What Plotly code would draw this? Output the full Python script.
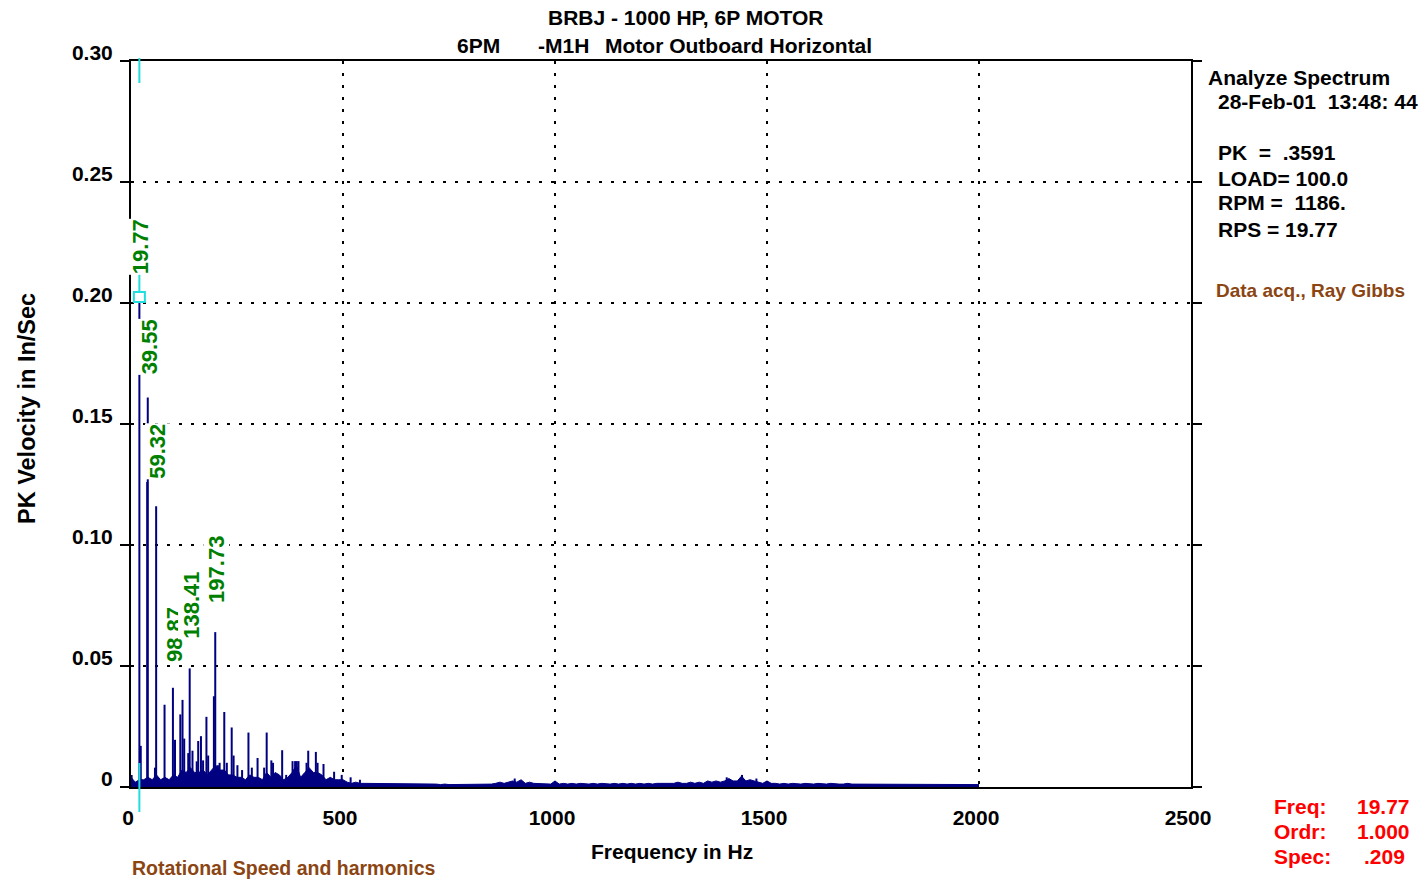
import plotly.graph_objects as go

W, H = 1422, 881
L, R, T, B = 131, 1191, 61, 787  # plot-area pixel bounds

FONT = "Liberation Sans, Arial, sans-serif"
NAVY = "#000080"
GREEN = "#008000"
BROWN = "#8B4513"
RED = "#FF0000"
CYAN = "#22DDDD"

# ---------------- data ----------------
FLOOR_STEP_HZ = 10
FLOOR_AMP = [
    0.004, 0.002, 0.003, 0.003, 0.004, 0.003, 0.005, 0.003, 0.004, 0.003, 0.005,
    0.004, 0.007, 0.006, 0.008, 0.006, 0.006, 0.007, 0.005, 0.007, 0.009,
    0.007, 0.007, 0.005, 0.005, 0.004, 0.004, 0.003, 0.005, 0.004, 0.004,
    0.003, 0.006, 0.004, 0.006, 0.005, 0.003, 0.004, 0.006, 0.009, 0.004,
    0.006, 0.008, 0.006, 0.006, 0.005, 0.003, 0.004, 0.003, 0.003, 0.003,
    0.002, 0.0015, 0.002, 0.0015, 0.0015, 0.0015, 0.0012, 0.0015, 0.0012, 0.0015,
    0.0012, 0.0015, 0.0012, 0.0012, 0.0015, 0.0012, 0.0012, 0.0015, 0.0012, 0.0012,
    0.0012, 0.0012, 0.001, 0.0012, 0.001, 0.001, 0.001, 0.0012, 0.001, 0.001,
    0.001, 0.0012, 0.001, 0.001, 0.0012, 0.0015, 0.002, 0.0015, 0.002, 0.0025,
    0.002, 0.003, 0.0015, 0.002, 0.0015, 0.0015, 0.0012, 0.0015, 0.0012, 0.0025,
    0.0012, 0.0015, 0.0012, 0.0015, 0.0012, 0.0015, 0.0012, 0.0012, 0.0015, 0.0012,
    0.0015, 0.0012, 0.0012, 0.0015, 0.0012, 0.0015, 0.0012, 0.0015, 0.0012, 0.0015,
    0.0012, 0.0015, 0.0012, 0.0015, 0.0015, 0.0012, 0.0015, 0.0015, 0.002, 0.0015,
    0.0015, 0.002, 0.0015, 0.002, 0.0015, 0.0025, 0.002, 0.0025, 0.002, 0.0025,
    0.0035, 0.0025, 0.0025, 0.0045, 0.0025, 0.003, 0.0025, 0.002, 0.0015, 0.0025,
    0.0015, 0.0015, 0.0012, 0.0015, 0.0012, 0.0015, 0.0012, 0.0012, 0.0015, 0.0012,
    0.0012, 0.0015, 0.0012, 0.0012, 0.0015, 0.0012, 0.0012, 0.0012, 0.0015, 0.0012,
    0.0012, 0.0012, 0.001, 0.0012, 0.001, 0.0012, 0.001, 0.0012, 0.001, 0.001,
    0.001, 0.0012, 0.001, 0.001, 0.0012, 0.001, 0.001, 0.001, 0.0012, 0.001,
    0.001, 0.001, 0.0012, 0.001, 0.001, 0.001, 0.001, 0.0012, 0.001, 0.001,
]

PEAK_HZ = [1.5, 19.77, 23.0, 38.2, 39.55, 56.5, 59.32, 79.1, 98.87, 103.8,
           116.3, 121.5, 125.5, 135.0, 138.41, 145.0, 155.0, 158.5, 165.0, 170.0,
           177.9, 182.0, 195.5, 198.7, 205.0, 209.0, 220.0, 226.0, 237.5, 242.0,
           251.0, 262.0, 277.0, 285.0, 298.5, 314.0, 320.0, 331.0, 335.0, 356.5,
           366.0, 381.0, 387.0, 391.0, 395.0, 414.0, 418.0, 436.0, 440.0, 454.0,
           479.0, 497.0, 518.0, 540.0, 905.0, 1405.0, 1441.0, 1475.0]
PEAK_AMP = [0.005, 0.2025, 0.017, 0.126, 0.161, 0.008, 0.116, 0.034, 0.041, 0.0195,
            0.030, 0.036, 0.020, 0.014, 0.049, 0.015, 0.0106, 0.019, 0.021, 0.011,
            0.029, 0.013, 0.0375, 0.064, 0.009, 0.010, 0.031, 0.010, 0.0246, 0.013,
            0.009, 0.007, 0.0225, 0.008, 0.012, 0.008, 0.0225, 0.011, 0.010, 0.0152,
            0.005, 0.0107, 0.0107, 0.0107, 0.0107, 0.010, 0.015, 0.0145, 0.010, 0.0095,
            0.0063, 0.005, 0.004, 0.003, 0.0035, 0.004, 0.005, 0.0035]

LABEL_HZ = [19.77, 39.55, 59.32, 98.87, 138.41, 197.73]
LABEL_TEXT = ["19.77", "39.55", "59.32", "98.87", "138.41", "197.73"]
LABEL_BOTTOM = [0.2116, 0.170, 0.127, 0.0512, 0.0607, 0.0756]

CURSOR_HZ = 19.77
CURSOR_AMP = 0.2025

X_TICKS = [0, 500, 1000, 1500, 2000, 2500]
Y_TICKS = [0, 0.05, 0.10, 0.15, 0.20, 0.25, 0.30]
Y_TICK_TEXT = ["0", "0.05", "0.10", "0.15", "0.20", "0.25", "0.30"]

# ---------------- figure ----------------
floor_hz = [i * FLOOR_STEP_HZ for i in range(len(FLOOR_AMP))]

seg_x, seg_y = [], []
for f, a in zip(PEAK_HZ, PEAK_AMP):
    seg_x += [f, f, None]
    seg_y += [0, a, None]

fig = go.Figure()
fig.add_trace(go.Scatter(x=floor_hz, y=FLOOR_AMP, mode="lines", fill="tozeroy",
                         line=dict(color=NAVY, width=1), fillcolor=NAVY,
                         hoverinfo="skip", showlegend=False))
fig.add_trace(go.Scatter(x=seg_x, y=seg_y, mode="lines",
                         line=dict(color=NAVY, width=2),
                         hoverinfo="skip", showlegend=False))


def P(px, py):
    return (px - L) / (R - L), (B - py) / (B - T)


def txt(s, px, py, color="black", size=21, anchor="left"):
    x, y = P(px, py)
    fig.add_annotation(text=s, x=x, y=y, xref="paper", yref="paper",
                       xanchor=anchor, yanchor="middle", showarrow=False,
                       font=dict(family=FONT, size=size, color=color, weight="bold"))


# titles
txt("BRBJ - 1000 HP, 6P MOTOR", 685, 17, anchor="center")
txt("6PM", 455, 45)
txt("-M1H", 536, 45)
txt("Motor Outboard Horizontal", 603, 45)

# right panel
txt("Analyze Spectrum", 1206, 77)
txt("28-Feb-01  13:48: 44", 1216, 102)
txt("PK  =  .3591", 1216, 153)
txt("LOAD= 100.0", 1216, 178)
txt("RPM =  1186.", 1216, 203)
txt("RPS = 19.77", 1216, 229)
txt("Data acq., Ray Gibbs", 1214, 290, color=BROWN, size=19)

# cursor readout
txt("Freq:", 1272, 806, color=RED)
txt("19.77", 1412, 806, color=RED, anchor="right")
txt("Ordr:", 1272, 831, color=RED)
txt("1.000", 1412, 831, color=RED, anchor="right")
txt("Spec:", 1272, 856, color=RED)
txt(".209", 1407, 856, color=RED, anchor="right")

# bottom note + axis titles
txt("Rotational Speed and harmonics", 130, 868, color=BROWN, size=19.5)
txt("Frequency in Hz", 672, 851, anchor="center")
x, y = P(27, 409)
fig.add_annotation(text="PK Velocity in In/Sec", x=x, y=y, xref="paper", yref="paper",
                   textangle=-90, showarrow=False, xanchor="center", yanchor="middle",
                   font=dict(family=FONT, size=23.5, color="black", weight="bold"))

# harmonic labels
for f, s, yb in zip(LABEL_HZ, LABEL_TEXT, LABEL_BOTTOM):
    fig.add_annotation(text=s, x=f, y=yb, xref="x", yref="y", textangle=-90,
                       showarrow=False, xanchor="center", yanchor="bottom",
                       xshift=1.5, bgcolor="white", borderpad=0,
                       font=dict(family=FONT, size=22, color=GREEN, weight="bold"))

# cursor
cy_top0 = (B - 58) / (B - T)
cy_top1 = (B - 83) / (B - T)
cy_bot0 = (B - 763) / (B - T)
cy_bot1 = (B - 812) / (B - T)
for y0, y1 in [(cy_top0, cy_top1), (cy_bot0, cy_bot1)]:
    fig.add_shape(type="line", xref="x", yref="paper", x0=CURSOR_HZ, x1=CURSOR_HZ,
                  y0=y0, y1=y1, line=dict(color=CYAN, width=2), layer="above")
fig.add_shape(type="line", xref="x", yref="y", x0=CURSOR_HZ, x1=CURSOR_HZ,
              y0=CURSOR_AMP, y1=0.214, line=dict(color=CYAN, width=2), layer="above")
fig.add_shape(type="rect", xref="x", yref="y", xsizemode="pixel", ysizemode="pixel",
              xanchor=CURSOR_HZ, yanchor=CURSOR_AMP, x0=-5.5, x1=5.5, y0=-5, y1=5,
              line=dict(color=CYAN, width=2), fillcolor="white", layer="above")

grid = dict(showgrid=True, gridcolor="black", gridwidth=2, griddash="3px,9px",
            showline=True, linecolor="black", linewidth=2, zeroline=False,
            automargin=False)

fig.update_layout(
    width=W, height=H,
    margin=dict(l=L, r=W - R, t=T, b=H - B, pad=0),
    paper_bgcolor="white", plot_bgcolor="white",
    showlegend=False,
    xaxis=dict(range=[0, 2500], tickvals=X_TICKS, ticks="", mirror=True,
               ticklabelstandoff=11, ticklabelshift=-3,
               tickfont=dict(family=FONT, size=21, color="black", weight="bold"),
               **grid),
    yaxis=dict(range=[0, 0.30], tickvals=Y_TICKS, ticktext=Y_TICK_TEXT,
               ticks="outside", ticklen=9, tickwidth=2, tickcolor="black",
               mirror="ticks", ticklabelstandoff=3, ticklabelshift=-8,
               tickfont=dict(family=FONT, size=21, color="black", weight="bold"),
               **grid),
)

fig.write_html("out.html", config={"displayModeBar": False},
               post_script="document.body.style.margin='0';"
                           "document.body.style.overflow='hidden';")
